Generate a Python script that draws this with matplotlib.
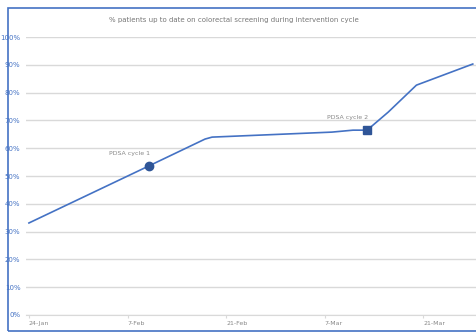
import datetime as dt
import matplotlib
matplotlib.use("Agg")
import matplotlib.pyplot as plt
import matplotlib.dates as mdates
from matplotlib.patches import Rectangle

# values
dates = ["2023-01-24", "2023-02-10", "2023-02-18", "2023-02-19", "2023-03-08",
         "2023-03-11", "2023-03-13", "2023-03-16", "2023-03-20", "2023-03-28"]
pct_up_to_date = [33.1, 53.6, 63.3, 64.0, 65.8, 66.5, 66.5, 73.0, 82.7, 90.3]
cycle_labels = ["PDSA cycle 1", "PDSA cycle 2"]
cycle_index = [1, 6]
tick_dates = ["2023-01-24", "2023-02-07", "2023-02-21", "2023-03-07", "2023-03-21"]
y_ticks = [0, 10, 20, 30, 40, 50, 60, 70, 80, 90, 100]

x = [dt.datetime.strptime(d, "%Y-%m-%d") for d in dates]
xt = [dt.datetime.strptime(d, "%Y-%m-%d") for d in tick_dates]

blue = "#4472C4"
dark = "#2F5597"

fig = plt.figure(figsize=(4.77, 3.34), dpi=100)
ax = fig.add_axes([0.0545, 0.057, 0.9455, 0.832])

ax.plot(x, pct_up_to_date, color=blue, linewidth=1.2, zorder=3)
markers = ["o", "s"]
for lab, i, m in zip(cycle_labels, cycle_index, markers):
    ax.plot(x[i], pct_up_to_date[i], marker=m, markersize=6, color=dark, zorder=4)
    ax.annotate(lab, (x[i], pct_up_to_date[i]), xytext=(-14, 8),
                textcoords="offset points", ha="center", fontsize=4.5, color="#888888")

ax.set_ylim(0, 100)
ax.set_xlim(x[0] - dt.timedelta(hours=10), x[0] + dt.timedelta(days=63.6))
ax.set_yticks(y_ticks)
ax.set_yticklabels([f"{v}%" for v in y_ticks])
ax.set_xticks(xt)
ax.xaxis.set_major_formatter(mdates.DateFormatter("%-d-%b"))
ax.grid(axis="y", color="#d9d9d9", linewidth=1)
for s in ["top", "right", "left"]:
    ax.spines[s].set_visible(False)
ax.spines["bottom"].set_color("#d9d9d9")
ax.tick_params(axis="y", length=0, labelsize=5, labelcolor=blue, pad=4)
ax.tick_params(axis="x", length=2, color="#d9d9d9", labelsize=4.5, labelcolor="#888888", pad=2)
for t in ax.get_xticklabels():
    t.set_ha("left")

fig.text(0.49, 0.94, "% patients up to date on colorectal screening during intervention cycle",
         ha="center", va="center", fontsize=5, color="#777777")

fig.patches.append(Rectangle((8 / 477, 3 / 334), 1.0, 323 / 334, transform=fig.transFigure,
                             fill=False, edgecolor=blue, linewidth=1.2))

fig.savefig("out.png", dpi=100)
